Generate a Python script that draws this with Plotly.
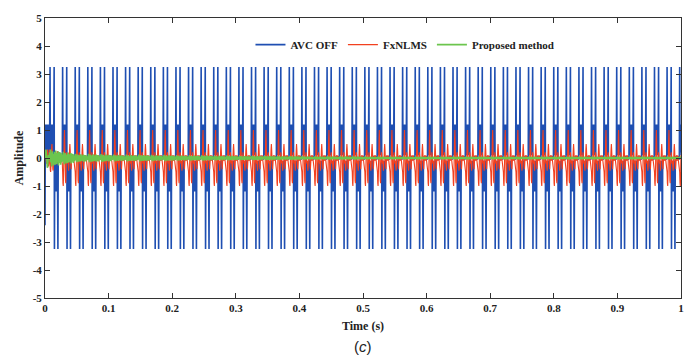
import numpy as np
import plotly.graph_objects as go

# ---- values ----
period = 0.0198          # s, one cycle of the disturbance
samples_per_cycle = 40
n_cycles = 51

x_ticks = [0, 0.1, 0.2, 0.3, 0.4, 0.5, 0.6, 0.7, 0.8, 0.9, 1]
x_tick_labels = ["0", "0.1", "0.2", "0.3", "0.4", "0.5", "0.6", "0.7", "0.8", "0.9", "1"]
y_ticks = [-5, -4, -3, -2, -1, 0, 1, 2, 3, 4, 5]
y_tick_labels = ["-5", "-4", "-3", "-2", "-1", "0", "1", "2", "3", "4", "5"]

# first 16 samples (before the first full cycle)
blue_start = [-2.4, 1.2, 0.2, 1.2, 0.1, 1.2, 0.2, 1.2, 0.1, 1.2, 0.2, 1.2, 0.1, 1.2, 0.2, 1.2]
red_start = [0.0, 0.1, 0.2, 0.1, -0.1, -0.2, 0.0, 0.2, 0.3, 0.1, -0.1, -0.3, -0.2, 0.1, 0.3, 0.2]
green_start = [0.0, 0.1, 0.25, 0.3, 0.2, 0.05, -0.1, -0.3, -0.35, -0.2, 0.0, 0.1, 0.05, -0.05, 0.1, 0.2]

# one cycle of each signal
blue_cycle = [3.25, 0.1, 1.2, 0.2, 1.2, 0.1, 1.2, 0.2, 1.2, 0.1, 1.2, 0.2, 1.2, 3.25,
              -3.25, -0.1, -1.2, -0.2, -1.2, -0.1, -1.2, -0.2, -1.2, -0.1, -1.2, -3.25,
              -0.1, 0.05, -0.05, 0.08, -0.06, 0.05, -0.08, 0.06, -0.05, 0.07, -0.04, 0.05, -0.06, 0.04]
red_cycle = [-0.5, -0.9, -1.0, -0.6, 0.1, 0.7, 1.0, 0.5, -0.2, -0.8, -0.9, -0.4, 0.0, 0.2,
             0.1, -0.1, -0.2, -0.1, -0.3, -0.45, -0.3, 0.0, 0.3, 0.5, 0.3, 0.0, -0.3, -0.4,
             -0.2, 0.0, 0.1, 0.0, -0.1, 0.0, 0.1, 0.0, -0.1, -0.2, -0.3, -0.4]
green_cycle = [0.2, -0.5, 1.0, -0.3, 0.6, -1.0, 0.4, -0.2, 0.8, -0.6, 0.3, -0.9, 0.5, 0.1,
               -0.4, 0.7, -0.8, 0.2, 0.9, -0.3, 0.4, -0.7, 0.6, -0.2, 0.3, -0.5, 0.8, -0.9,
               0.1, 0.5, -0.6, 0.7, -0.3, 0.2, -0.8, 0.6, -0.1, 0.4, -0.5, 0.3]

# amplitude of each cycle
red_gain = [0.5] + [1.0] * 50
green_gain = [0.3, 0.22, 0.15, 0.15, 0.14, 0.12, 0.12, 0.12, 0.11, 0.11,
              0.10, 0.10, 0.10, 0.09, 0.09, 0.08, 0.08, 0.08, 0.07, 0.07,
              0.06, 0.06, 0.06, 0.06, 0.06, 0.05, 0.05, 0.05, 0.05, 0.05,
              0.05, 0.05, 0.05, 0.05, 0.05, 0.05, 0.05, 0.05, 0.05, 0.05,
              0.05, 0.05, 0.05, 0.05, 0.05, 0.05, 0.05, 0.05, 0.05, 0.05, 0.05]

# ---- build series ----
def build(start, cycle, gain):
    body = np.tile(np.array(cycle), n_cycles) * np.repeat(np.array(gain), samples_per_cycle)
    return np.concatenate([np.array(start), body])

blue = build(blue_start, blue_cycle, [1.0] * n_cycles)
red = build(red_start, red_cycle, red_gain)
green = build(green_start, green_cycle, green_gain)
dt = period / samples_per_cycle
t = np.arange(len(blue)) * dt
keep = t <= 1.0
t, blue, red, green = t[keep], blue[keep], red[keep], green[keep]

font_serif = "Liberation Serif"
text_color = "#222222"

fig = go.Figure()
fig.add_trace(go.Scatter(x=t, y=blue, mode="lines", name="<b>AVC OFF</b>",
                         line=dict(color="#1f4fb2", width=1.6, simplify=False)))
fig.add_trace(go.Scatter(x=t, y=red, mode="lines", name="<b>FxNLMS</b>",
                         line=dict(color="#f2401f", width=1.1, simplify=False)))
fig.add_trace(go.Scatter(x=t, y=green, mode="lines", name="<b>Proposed method</b>",
                         line=dict(color="#6cc54e", width=1.6, simplify=False)))

axis_common = dict(showline=True, linecolor="#333333", linewidth=1, mirror="ticks",
                   ticks="inside", ticklen=5, tickcolor="#333333", showgrid=False,
                   zeroline=False, tickfont=dict(family=font_serif, size=11, color=text_color))

fig.update_xaxes(range=[0, 1], tickvals=x_ticks,
                 ticktext=["<b>%s</b>" % s for s in x_tick_labels],
                 title=dict(text="<b>Time (s)</b>", font=dict(family=font_serif, size=12, color=text_color), standoff=8),
                 **axis_common)
fig.update_yaxes(range=[-5, 5], tickvals=y_ticks,
                 ticktext=["<b>%s</b>" % s for s in y_tick_labels],
                 title=dict(text="<b>Amplitude</b>", font=dict(family=font_serif, size=12, color=text_color), standoff=6),
                 **axis_common)

fig.update_layout(
    width=699, height=362,
    margin=dict(l=45, r=18, t=12, b=64),
    paper_bgcolor="white", plot_bgcolor="white",
    showlegend=True,
    legend=dict(orientation="h", x=0.566, y=0.905, xanchor="center", yanchor="middle",
                bgcolor="rgba(255,255,255,0)", font=dict(family=font_serif, size=11, color=text_color),
                itemwidth=30, tracegroupgap=0),
    annotations=[dict(text="(<i>c</i>)", x=0.5, xref="paper", y=-0.135, yref="paper",
                      yanchor="top", showarrow=False,
                      font=dict(family="Liberation Sans", size=15, color=text_color))],
)

fig.write_html("out.html", config={"displayModeBar": False},
               post_script="document.body.style.margin='0px';document.body.style.overflow='hidden';")
